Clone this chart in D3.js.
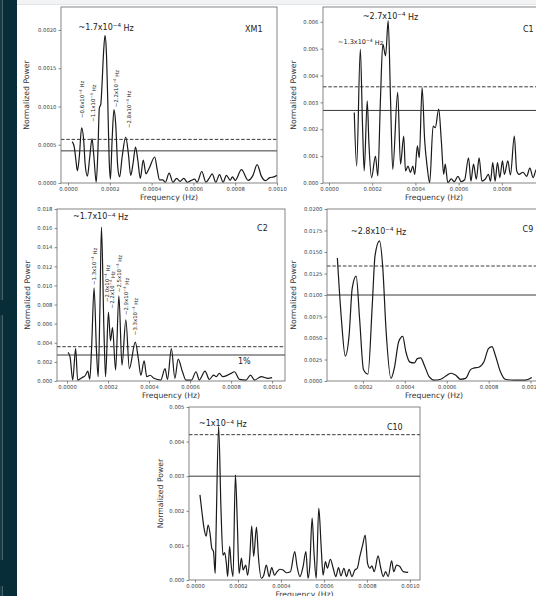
<!DOCTYPE html>
<html>
<head>
<meta charset="utf-8">
<script src="https://cdn.jsdelivr.net/npm/d3@7"></script>
<style>
  body { margin: 0; background: #fff; }
  svg text { font-family: "DejaVu Sans", sans-serif; }
</style>
</head>
<body>
<svg id="fig" width="536" height="596"></svg>
<script>
// frequencies are in units of 1e-4 Hz, powers in the unit given per panel
var F = 1e-4;

// XM1, power x1e-4
var xm1 = [[0.2,5.4],[0.3,4.7],[0.37,3.2],[0.45,1.6],[0.54,3.4],[0.65,7.2],[0.75,5.6],[0.82,2.5],[0.93,0.9],
  [1.04,3.4],[1.15,5.8],[1.24,3.4],[1.35,0.1],[1.43,4.1],[1.5,9.8],[1.57,10.3],[1.63,13],[1.7,17],[1.77,19.3],
  [1.83,17.5],[1.9,11],[1.97,3],[2.03,0.5],[2.11,5.6],[2.2,9.6],[2.28,7.8],[2.38,2.1],[2.47,0.8],[2.59,3.4],
  [2.76,6.0],[2.89,3.8],[3.0,1.0],[3.11,2.5],[3.23,4.7],[3.34,3.0],[3.46,0.6],[3.6,3.0],[3.73,1.2],[3.88,1.9],
  [4.15,3.4],[4.27,1.7],[4.38,0.4],[4.53,0.4],[4.66,0.1],[4.84,1.3],[5.02,0.1],[5.2,0.6],[5.36,0.2],[5.54,0.6],
  [5.71,0.1],[5.9,0.35],[6.06,0.5],[6.18,0.1],[6.4,1.5],[6.6,0.1],[6.75,0.6],[6.9,1.2],[7.07,0.1],[7.25,1.1],
  [7.42,0.1],[7.58,1.0],[7.76,0.35],[7.87,0.8],[8.0,0.35],[8.3,1.75],[8.62,0.35],[8.85,1.0],[9.05,2.4],[9.25,0.9],
  [9.45,0.3],[9.65,0.7],[9.85,0.8],[10.0,1.0]];

// C1, power x1e-3
var c1 = [[1.17,2.62],[1.28,0.63],[1.45,4.98],[1.55,2.19],[1.63,0.45],[1.77,3.06],[1.85,1.44],[1.97,0.2],[2.15,1.0],
  [2.26,0.26],[2.38,3.06],[2.49,5.17],[2.62,4.73],[2.74,6.04],[2.85,3.06],[2.95,0.51],[3.18,3.37],[3.31,0.7],
  [3.46,1.75],[3.54,0.45],[3.66,0.63],[3.77,0.39],[3.88,0.63],[3.97,0.32],[4.09,1.38],[4.18,0.94],[4.31,3.55],
  [4.43,1.57],[4.55,0.57],[4.66,0.01],[4.82,2.12],[4.92,2.06],[5.08,2.75],[5.2,1.57],[5.31,0.32],[5.38,0.7],
  [5.5,0.01],[5.66,0.15],[5.8,0.05],[5.97,0.25],[6.12,0.05],[6.28,0.12],[6.46,0.94],[6.57,0.07],[6.69,0.7],
  [6.82,0.14],[6.95,0.94],[7.08,0.07],[7.23,0.14],[7.38,0.32],[7.48,0.07],[7.58,0.76],[7.69,0.07],[7.8,0.76],
  [7.91,0.2],[8.03,0.82],[8.12,0.32],[8.28,0.82],[8.4,0.3],[8.58,1.75],[8.69,0.45],[8.8,0.32],[8.98,0.4],
  [9.15,0.25],[9.3,0.55],[9.45,0.2],[9.6,0.5],[9.8,0.3],[10,0.4]];

// C2, power x1e-3
var c2 = [[0.05,3.0],[0.15,2.5],[0.28,0.1],[0.42,3.4],[0.52,0.1],[0.73,0.35],[0.9,0.6],[1.01,1.03],[1.11,0.2],
  [1.2,3.5],[1.32,9.76],[1.44,3.0],[1.52,0.45],[1.6,7],[1.68,16.1],[1.8,5.4],[1.88,0.45],[2.02,7.2],[2.12,4.2],
  [2.22,5.6],[2.37,1.14],[2.53,8.9],[2.68,1.65],[2.87,6.4],[3.04,1.3],[3.33,4.07],[3.48,2.3],[3.6,0.6],[3.76,2.1],
  [3.89,0.45],[4.05,0.6],[4.24,0.28],[4.57,0.1],[4.78,1.3],[4.9,0.17],[5.09,3.38],[5.26,0.28],[5.42,2.28],
  [5.63,0.97],[5.8,0.1],[6.07,0.1],[6.29,0.97],[6.45,0.1],[6.73,1.03],[6.94,0.17],[7.15,0.62],[7.28,0.45],
  [7.43,0.8],[7.59,0.45],[7.84,0.62],[8.0,0.8],[8.16,0.97],[8.41,0.17],[8.73,0.1],[8.95,0.62],[9.14,0.1],
  [9.47,0.45],[9.8,0.28],[10,0.35]];

// C9, power x1e-3
var c9 = [[0.78,14.3],[0.97,7.3],[1.16,2.9],[1.34,5.3],[1.49,10.8],[1.68,12.2],[1.84,7.3],[2.03,1.3],[2.24,0.8],
  [2.45,9.0],[2.58,14.6],[2.79,16.3],[2.95,13.1],[3.1,6.1],[3.34,0.3],[3.5,1.5],[3.71,4.6],[3.9,5.2],[4.05,3.4],
  [4.24,2.2],[4.45,2.1],[4.6,2.6],[4.76,2.7],[4.92,1.9],[5.16,0.5],[5.4,0.1],[5.71,0.2],[6.03,0.7],[6.2,0.9],
  [6.42,0.7],[6.66,0.2],[6.9,0.3],[7.13,1.3],[7.29,1.5],[7.53,1.6],[7.77,2.2],[8.0,3.8],[8.16,4.0],[8.32,3.0],
  [8.56,1.1],[8.79,0.2],[9.19,0.1],[9.74,0.1],[10.06,0.4]];

// C10, power x1e-4
var c10 = [[0.23,24.6],[0.33,19.3],[0.42,15.0],[0.52,12.7],[0.61,15.9],[0.7,13.5],[0.78,9.2],[0.86,8.2],[0.94,1.9],
  [0.98,13.5],[1.1,44.4],[1.21,20.3],[1.3,7.2],[1.38,7.9],[1.46,4.8],[1.52,1.0],[1.61,9.7],[1.69,3.9],[1.77,1.0],
  [1.88,30.4],[1.97,16.4],[2.05,1.9],[2.16,6.3],[2.24,2.9],[2.36,4.3],[2.45,1.4],[2.55,6.8],[2.64,15.6],[2.73,6.8],
  [2.86,15.3],[2.95,6.8],[3.09,0.5],[3.2,1.4],[3.32,4.3],[3.45,1.0],[3.57,3.6],[3.7,1.4],[3.82,2.4],[3.95,3.1],
  [4.1,2.9],[4.26,2.1],[4.44,2.4],[4.64,8.2],[4.75,3.9],[4.88,1.0],[5.03,3.9],[5.16,8.2],[5.26,0.5],[5.34,3.9],
  [5.45,17.9],[5.54,7.7],[5.64,0.5],[5.76,20.8],[5.87,9.7],[5.96,1.4],[6.07,5.3],[6.16,3.4],[6.3,6.0],[6.43,3.4],
  [6.55,1.0],[6.68,3.6],[6.79,1.2],[6.93,3.4],[7.05,1.0],[7.17,3.1],[7.3,1.0],[7.44,2.9],[7.55,3.4],[7.67,6.8],
  [7.8,10.1],[7.92,13.0],[8.03,4.8],[8.14,3.4],[8.23,4.1],[8.34,2.4],[8.52,7.0],[8.63,3.9],[8.76,1.0],[8.87,2.4],
  [8.99,1.0],[9.15,5.5],[9.25,2.4],[9.38,4.3],[9.53,3.9],[9.69,2.4],[9.92,2.2]];

// significance levels: [dashed, solid]
var xm1Levels = [0.00057, 0.00042];
var c1Levels = [0.00358, 0.0027];
var c2Levels = [0.00359, 0.00272];
var c9Levels = [0.01337, 0.0100];
var c10Levels = [0.0042, 0.0030];

// tick labels
var xTicks = [0, 0.0002, 0.0004, 0.0006, 0.0008, 0.0010];
var xm1YTicks = [0, 0.0005, 0.001, 0.0015, 0.002];
var c1YTicks = [0, 0.001, 0.002, 0.003, 0.004, 0.005, 0.006];
var c2YTicks = [0, 0.002, 0.004, 0.006, 0.008, 0.010, 0.012, 0.014, 0.016, 0.018];
var c9YTicks = [0, 0.0025, 0.005, 0.0075, 0.01, 0.0125, 0.015, 0.0175, 0.02];
var c10YTicks = [0, 0.001, 0.002, 0.003, 0.004, 0.005];

// peak labels: [freq, power at label, mantissa]
var xm1Main = [0.00005, 0.0020, "1.7"];
var xm1Notes = [[0.000066, 0.00085, "0.6"], [0.000121, 0.0008, "1.1"], [0.000231, 0.00099, "2.2"], [0.000291, 0.00072, "2.8"]];
var c1Main = [0.000157, 0.00612, "2.7"];
var c1Second = [0.000042, 0.00518, "1.3"];
var c2Main = [0.000029, 0.01695, "1.7"];
var c2Notes = [[0.000132, 0.01005, "1.3"], [0.000195, 0.00827, "2.0"], [0.00022, 0.0076, "2.2"],
  [0.000254, 0.0093, "2.5"], [0.000288, 0.0069, "2.9"], [0.000332, 0.0048, "3.3"]];
var c9Main = [0.000143, 0.0171, "2.8"];
var c10Main = [0.000019, 0.00445, "1"];

var svg = d3.select("#fig");

// page chrome
svg.append("rect").attr("x", 17).attr("y", 0).attr("width", 519).attr("height", 4.5).attr("fill", "#f1f3f4");
svg.append("line").attr("x1", 17).attr("x2", 536).attr("y1", 4.5).attr("y2", 4.5).attr("stroke", "#e2e4e5");
svg.append("rect").attr("x", 0).attr("y", 0).attr("width", 2.5).attr("height", 596).attr("fill", "#173a44");
svg.append("rect").attr("x", 2.5).attr("y", 0).attr("width", 14.5).attr("height", 596).attr("fill", "#062d38");
svg.append("rect").attr("x", 0).attr("y", 300).attr("width", 3).attr("height", 15).attr("fill", "#062d38");
svg.append("rect").attr("x", 0).attr("y", 560).attr("width", 3).attr("height", 26).attr("fill", "#062d38");

function hzLabel(t, mant) {
  t.append("tspan").text("~" + mant + "x10");
  t.append("tspan").attr("dy", "-0.45em").attr("font-size", "70%").text("\u22124");
  t.append("tspan").attr("dy", "0.45em").text(" Hz");
}

var panelId = 0;
function panel(o) {
  var x = d3.scaleLinear().domain(o.xDomain).range([o.box[0], o.box[1]]);
  var y = d3.scaleLinear().domain(o.yDomain).range([o.box[3], o.box[2]]);
  var g = svg.append("g");
  var id = "clip" + (panelId++);
  g.append("clipPath").attr("id", id).append("rect")
    .attr("x", o.box[0]).attr("y", o.box[2]).attr("width", o.box[1] - o.box[0]).attr("height", o.box[3] - o.box[2]);

  var ax = g.append("g").attr("transform", "translate(0," + o.box[3] + ")")
    .call(d3.axisBottom(x).tickValues(xTicks.filter(function(d) { return d >= o.xDomain[0] && d <= o.xDomain[1]; }))
      .tickFormat(d3.format(".4f")).tickSize(2.5).tickPadding(2));
  var ay = g.append("g").attr("transform", "translate(" + o.box[0] + ",0)")
    .call(d3.axisLeft(y).tickValues(o.yTicks).tickFormat(d3.format(o.yFmt)).tickSize(2.5).tickPadding(2));
  [ax, ay].forEach(function(a) {
    a.select(".domain").remove();
    a.selectAll("line").attr("stroke", "#555").attr("stroke-width", 0.7);
    a.selectAll("text").attr("fill", "#444").attr("font-size", 5.3).attr("font-family", "DejaVu Sans");
  });

  var line = d3.line().x(function(d) { return x(d[0] * F); }).y(function(d) { return y(d[1] * o.unit); })
    .curve(d3.curveMonotoneX);
  var inner = g.append("g").attr("clip-path", "url(#" + id + ")");
  inner.append("path").datum(o.data).attr("d", line).attr("fill", "none")
    .attr("stroke", "#1a1a1a").attr("stroke-width", 1.2).attr("stroke-linejoin", "round");
  inner.selectAll("line.lvl").data(o.levels).enter().append("line")
    .attr("x1", o.box[0]).attr("x2", o.box[1])
    .attr("y1", function(d) { return y(d); }).attr("y2", function(d) { return y(d); })
    .attr("stroke", "#222").attr("stroke-width", 0.9)
    .attr("stroke-dasharray", function(d, i) { return i === 0 ? "3.5,1.8" : null; });

  g.append("rect").attr("x", o.box[0]).attr("y", o.box[2])
    .attr("width", o.box[1] - o.box[0]).attr("height", o.box[3] - o.box[2])
    .attr("fill", "none").attr("stroke", "#666").attr("stroke-width", 0.8);

  var cx = (o.box[0] + o.box[1]) / 2, cy = (o.box[2] + o.box[3]) / 2;
  g.append("text").attr("x", cx).attr("y", o.box[3] + 17).attr("text-anchor", "middle")
    .attr("font-size", 7.7).attr("fill", "#333").text("Frequency (Hz)");
  g.append("text").attr("transform", "translate(" + (o.box[0] - o.ylabOff) + "," + cy + ") rotate(-90)")
    .attr("text-anchor", "middle").attr("font-size", 7.7).attr("fill", "#333").text("Normalized Power");

  g.append("text").attr("x", x(o.tag[0])).attr("y", y(o.tag[1])).attr("font-size", 8).attr("fill", "#222").text(o.tag[2]);

  o.mains.forEach(function(m) {
    var t = g.append("text").attr("x", x(m[0])).attr("y", y(m[1])).attr("font-size", m[3] || 8).attr("fill", "#222");
    hzLabel(t, m[2]);
  });
  (o.notes || []).forEach(function(n) {
    var t = g.append("text").attr("transform", "translate(" + x(n[0]) + "," + y(n[1]) + ") rotate(-90)")
      .attr("font-size", 5.4).attr("fill", "#222");
    t.append("tspan").attr("dy", "0.35em").text("~" + n[2] + "x10");
    t.append("tspan").attr("dy", "-0.45em").attr("font-size", "70%").text("\u22124");
    t.append("tspan").attr("dy", "0.45em").text(" Hz");
  });
  (o.extra || []).forEach(function(e) {
    g.append("text").attr("x", x(e[0])).attr("y", y(e[1])).attr("font-size", 8).attr("fill", "#222").text(e[2]);
  });
}

panel({ data: xm1, unit: 1e-4, levels: xm1Levels, box: [61, 277, 7, 183],
  xDomain: [-0.0000335, 0.001], yDomain: [0, 0.0023], yTicks: xm1YTicks, yFmt: ".4f", ylabOff: 32,
  tag: [0.000847, 0.00197, "XM1"], mains: [xm1Main], notes: xm1Notes });

panel({ data: c1, unit: 1e-3, levels: c1Levels, box: [323, 545, 7, 183],
  xDomain: [-0.0000278, 0.001], yDomain: [0, 0.00655], yTicks: c1YTicks, yFmt: ".3f", ylabOff: 27,
  tag: [0.000898, 0.00563, "C1"], mains: [c1Main, c1Second.concat([6.5])] });

panel({ data: c2, unit: 1e-3, levels: c2Levels, box: [57, 285, 209, 381],
  xDomain: [-0.0000488, 0.001063], yDomain: [0, 0.018], yTicks: c2YTicks, yFmt: ".3f", ylabOff: 27,
  tag: [0.000927, 0.0157, "C2"], mains: [c2Main], notes: c2Notes, extra: [[0.000834, 0.00178, "1%"]] });

panel({ data: c9, unit: 1e-3, levels: c9Levels, box: [327, 541, 209, 381],
  xDomain: [0.0000286, 0.00105], yDomain: [0, 0.02], yTicks: c9YTicks, yFmt: ".4f", ylabOff: 31,
  tag: [0.000962, 0.01733, "C9"], mains: [c9Main] });

panel({ data: c10, unit: 1e-4, levels: c10Levels, box: [189, 420, 407, 580],
  xDomain: [-0.0000279, 0.001047], yDomain: [0, 0.005], yTicks: c10YTicks, yFmt: ".3f", ylabOff: 26,
  tag: [0.000893, 0.00434, "C10"], mains: [c10Main] });
</script>
</body>
</html>
